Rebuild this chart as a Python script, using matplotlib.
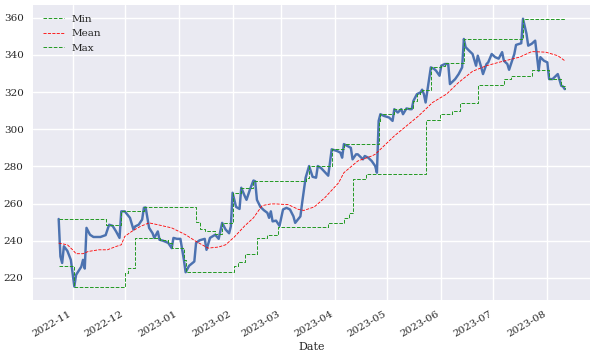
import numpy as np
import pandas as pd
import matplotlib
matplotlib.use('Agg')
import matplotlib.pyplot as plt

# closing price (vertices)
price_dates = ['2022-10-24', '2022-10-25', '2022-10-26', '2022-10-27', '2022-10-29', '2022-10-31',
               '2022-11-02', '2022-11-03', '2022-11-06', '2022-11-07', '2022-11-08', '2022-11-09',
               '2022-11-11', '2022-11-13', '2022-11-17', '2022-11-20', '2022-11-22', '2022-11-24',
               '2022-11-26', '2022-11-28', '2022-11-29', '2022-12-01', '2022-12-04', '2022-12-06',
               '2022-12-07', '2022-12-09', '2022-12-11', '2022-12-12', '2022-12-13', '2022-12-15',
               '2022-12-17', '2022-12-18', '2022-12-20', '2022-12-21', '2022-12-23', '2022-12-26',
               '2022-12-28', '2022-12-29', '2022-12-31', '2023-01-02', '2023-01-04', '2023-01-05',
               '2023-01-07', '2023-01-10', '2023-01-11', '2023-01-13', '2023-01-16', '2023-01-17',
               '2023-01-19', '2023-01-22', '2023-01-24', '2023-01-26', '2023-01-28', '2023-01-30',
               '2023-01-31', '2023-02-01', '2023-02-03', '2023-02-05', '2023-02-06', '2023-02-08',
               '2023-02-09', '2023-02-11', '2023-02-13', '2023-02-14', '2023-02-15', '2023-02-17',
               '2023-02-19', '2023-02-21', '2023-02-22', '2023-02-23', '2023-02-24', '2023-02-26',
               '2023-02-28', '2023-03-02', '2023-03-04', '2023-03-06', '2023-03-08', '2023-03-09',
               '2023-03-12', '2023-03-13', '2023-03-15', '2023-03-17', '2023-03-19', '2023-03-21',
               '2023-03-22', '2023-03-24', '2023-03-26', '2023-03-28', '2023-03-30', '2023-04-02',
               '2023-04-04', '2023-04-05', '2023-04-06', '2023-04-08', '2023-04-10', '2023-04-11',
               '2023-04-13', '2023-04-14', '2023-04-15', '2023-04-17', '2023-04-18', '2023-04-20',
               '2023-04-22', '2023-04-24', '2023-04-25', '2023-04-26', '2023-04-27', '2023-04-29',
               '2023-05-02', '2023-05-04', '2023-05-05', '2023-05-07', '2023-05-09', '2023-05-10',
               '2023-05-12', '2023-05-14', '2023-05-15', '2023-05-16', '2023-05-18', '2023-05-20',
               '2023-05-21', '2023-05-22', '2023-05-23', '2023-05-24', '2023-05-26', '2023-05-28',
               '2023-05-29', '2023-05-31', '2023-06-01', '2023-06-03', '2023-06-05', '2023-06-06',
               '2023-06-09', '2023-06-11', '2023-06-13', '2023-06-14', '2023-06-15', '2023-06-17',
               '2023-06-19', '2023-06-21', '2023-06-22', '2023-06-24', '2023-06-25', '2023-06-27',
               '2023-06-28', '2023-06-30', '2023-07-02', '2023-07-04', '2023-07-06', '2023-07-07',
               '2023-07-09', '2023-07-10', '2023-07-13', '2023-07-14', '2023-07-17', '2023-07-18',
               '2023-07-20', '2023-07-21', '2023-07-23', '2023-07-25', '2023-07-27', '2023-07-28',
               '2023-07-30', '2023-08-01', '2023-08-02', '2023-08-04', '2023-08-07', '2023-08-09',
               '2023-08-10', '2023-08-11']
price = [251.7, 231.5, 228.0, 237.0, 234.5, 229.7,
         215.3, 221.6, 226.0, 229.7, 225.0, 246.9,
         243.2, 242.0, 242.0, 243.0, 248.6, 248.0,
         245.0, 241.5, 255.8, 255.8, 252.3, 246.0,
         247.7, 248.6, 251.4, 257.7, 257.9, 246.9,
         244.0, 241.5, 245.0, 240.5, 240.0, 238.8,
         236.0, 241.5, 241.0, 241.0, 229.7, 223.0,
         226.5, 228.8, 238.8, 240.2, 241.0, 235.1,
         241.5, 243.2, 241.0, 249.6, 246.0, 244.0,
         247.7, 265.8, 258.2, 257.1, 268.5, 264.0,
         262.0, 267.6, 272.4, 272.0, 262.0, 258.2,
         256.4, 255.0, 252.3, 255.8, 250.4, 250.8,
         248.0, 256.8, 257.7, 256.8, 253.1, 249.6,
         253.1, 260.4, 273.9, 280.2, 274.4, 273.9,
         280.2, 279.0, 277.0, 275.0, 289.2, 288.3,
         287.4, 284.7, 292.0, 291.0, 290.0, 283.8,
         286.5, 286.5, 285.6, 283.8, 285.6, 284.7,
         282.9, 280.2, 276.6, 304.5, 308.1, 307.2,
         306.3, 304.5, 310.8, 309.0, 310.8, 308.1,
         311.2, 310.8, 310.8, 315.3, 318.9, 319.8,
         321.3, 318.9, 314.4, 320.7, 333.3, 332.4,
         331.5, 328.8, 334.2, 335.1, 335.1, 324.3,
         327.0, 329.7, 333.3, 348.6, 344.2, 342.3,
         340.5, 334.2, 339.6, 333.3, 329.7, 335.1,
         336.0, 340.5, 338.8, 338.0, 341.5, 336.9,
         335.1, 332.0, 340.5, 345.4, 346.3, 359.5,
         351.4, 345.0, 346.0, 347.7, 331.5, 338.8,
         336.9, 336.0, 327.0, 327.0, 329.7, 323.4,
         323.0, 321.6]

# rolling min (step changes)
min_dates = ['2022-10-24', '2022-11-02', '2022-12-01', '2022-12-03', '2022-12-07', '2022-12-21',
             '2022-12-26', '2022-12-28', '2023-01-04', '2023-01-05', '2023-02-02', '2023-02-04',
             '2023-02-08', '2023-02-15', '2023-02-21', '2023-02-27', '2023-03-28', '2023-04-06',
             '2023-04-09', '2023-04-11', '2023-04-19', '2023-05-23', '2023-05-31', '2023-06-07',
             '2023-06-12', '2023-06-22', '2023-07-07', '2023-07-11', '2023-07-23', '2023-08-02',
             '2023-08-09', '2023-08-11']
min_vals = [226.5, 215.3, 222.5, 225.2, 241.5, 240.5,
            238.8, 236.0, 229.7, 223.2, 226.5, 228.3,
            233.0, 241.5, 243.2, 247.2, 249.6, 252.0,
            255.0, 273.2, 276.0, 304.9, 308.1, 309.9,
            313.9, 324.0, 327.0, 328.8, 331.9, 327.0,
            323.4, 321.6]

# rolling mean
mean_dates = ['2022-10-24', '2022-10-29', '2022-11-01', '2022-11-03', '2022-11-07', '2022-11-10',
              '2022-11-16', '2022-11-21', '2022-11-26', '2022-11-29', '2022-12-01', '2022-12-05',
              '2022-12-10', '2022-12-15', '2022-12-20', '2022-12-28', '2023-01-05', '2023-01-11',
              '2023-01-18', '2023-01-24', '2023-01-28', '2023-02-02', '2023-02-08', '2023-02-13',
              '2023-02-18', '2023-02-23', '2023-02-26', '2023-03-05', '2023-03-11', '2023-03-14',
              '2023-03-20', '2023-03-26', '2023-04-03', '2023-04-06', '2023-04-14', '2023-04-22',
              '2023-04-24', '2023-04-28', '2023-05-05', '2023-05-12', '2023-05-19', '2023-05-22',
              '2023-05-27', '2023-06-04', '2023-06-11', '2023-06-19', '2023-06-27', '2023-07-04',
              '2023-07-16', '2023-07-23', '2023-07-31', '2023-08-07', '2023-08-11']
mean_vals = [238.7, 237.8, 235.1, 233.0, 233.0, 234.2,
             235.1, 235.1, 236.9, 237.8, 242.3, 245.0,
             247.7, 249.6, 248.6, 246.9, 243.2, 239.6,
             236.0, 236.6, 237.8, 242.0, 248.0, 252.3,
             258.9, 259.8, 259.8, 259.4, 256.8, 256.3,
             258.2, 263.1, 271.2, 276.6, 282.9, 285.6,
             286.5, 290.1, 296.4, 301.8, 307.2, 309.9,
             314.4, 318.9, 325.2, 331.2, 334.2, 336.0,
             338.8, 341.8, 341.5, 339.6, 336.9]

# rolling max (step changes)
max_dates = ['2022-10-24', '2022-11-20', '2022-11-29', '2022-12-12', '2023-01-11', '2023-01-13',
             '2023-01-16', '2023-01-22', '2023-01-26', '2023-02-01', '2023-02-06', '2023-02-13',
             '2023-03-15', '2023-03-17', '2023-03-30', '2023-04-06', '2023-04-26', '2023-04-27',
             '2023-05-05', '2023-05-12', '2023-05-16', '2023-05-18', '2023-05-20', '2023-05-21',
             '2023-05-26', '2023-06-01', '2023-06-03', '2023-06-14', '2023-07-18', '2023-08-11']
max_vals = [251.7, 248.6, 255.8, 257.9, 250.0, 246.5,
            245.0, 243.5, 249.6, 265.8, 268.5, 272.4,
            273.9, 280.2, 289.2, 292.0, 304.5, 308.1,
            310.8, 311.5, 315.3, 318.9, 319.8, 321.3,
            333.3, 334.2, 335.5, 348.6, 359.5, 359.5]

plt.style.use('seaborn-v0_8')
plt.rcParams['font.family'] = 'serif'
plt.rcParams['font.serif'] = ['DejaVu Serif']

fig, ax = plt.subplots(figsize=(5.96, 3.55), dpi=100)
ax.plot(pd.to_datetime(price_dates), price, color='#4C72B0', linewidth=1.75)
ax.plot(pd.to_datetime(min_dates), min_vals, '--', color='#229922', linewidth=0.7,
        drawstyle='steps-post', label='Min')
ax.plot(pd.to_datetime(mean_dates), mean_vals, 'r--', linewidth=0.6, label='Mean')
ax.plot(pd.to_datetime(max_dates), max_vals, '--', color='#229922', linewidth=0.7,
        drawstyle='steps-post', label='Max')

ax.tick_params(labelsize=7.5)
ax.set_xlabel('Date', fontsize=8, labelpad=2)
ax.legend(loc='upper left', fontsize=7.5)
fig.autofmt_xdate()
fig.subplots_adjust(left=0.056, right=0.99, top=0.985, bottom=0.155)
plt.savefig('out.png', dpi=100)
